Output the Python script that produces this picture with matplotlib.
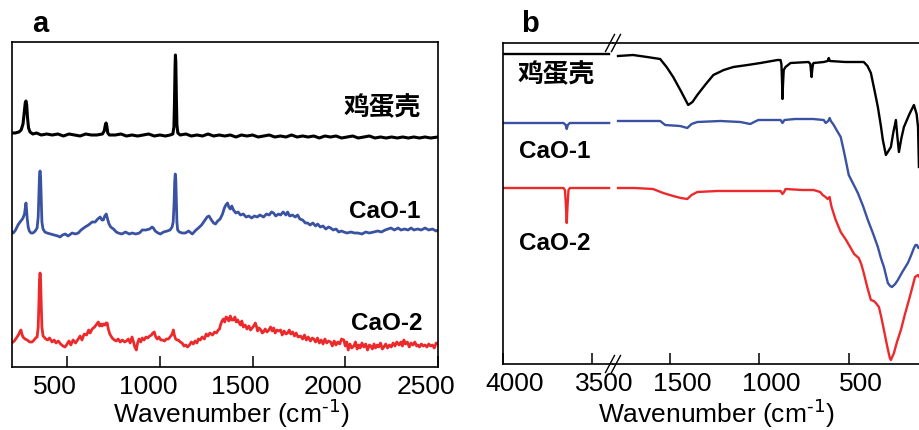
import matplotlib
matplotlib.use("Agg")
import matplotlib.pyplot as plt
import matplotlib.transforms as mtransforms
from matplotlib.lines import Line2D

plt.rcParams['font.family'] = ['Liberation Sans', 'Noto Sans CJK SC', 'DejaVu Sans']
plt.rcParams['mathtext.default'] = 'regular'
plt.rcParams['axes.unicode_minus'] = False

# ---------------- data: panel a (Raman, stacked, a.u.) ----------------
raman_eggshell = [(202,234),(220,234),(240,235),(252,237),(262,243),(269,255),(274,264),(278,266),(282,262),(286,250),(292,239),(300,235),(315,233),(335,234),(360,232),(390,233),(420,232),(450,233),(480,231),(510,233),(540,232),(570,231),(600,233),(630,232),(660,232),(690,233),(700,236),(706,242),(710,244),(714,241),(719,234),(728,232),(760,232),(790,233),(820,231),(850,232),(880,231),(910,232),(940,233),(970,231),(1000,232),(1030,231),(1055,232),(1070,233),(1076,240),(1079,265),(1082,300),(1084,312),(1086,305),(1089,270),(1092,242),(1097,234),(1110,232),(1140,233),(1170,231),(1200,232),(1230,231),(1260,233),(1290,231),(1320,232),(1350,231),(1380,232),(1410,230),(1440,232),(1470,231),(1500,232),(1530,230),(1560,231),(1590,232),(1620,230),(1650,231),(1680,230),(1710,232),(1740,230),(1770,231),(1800,230),(1830,231),(1860,229),(1890,231),(1920,230),(1950,231),(1980,229),(2010,230),(2040,231),(2070,229),(2100,230),(2130,231),(2160,229),(2190,230),(2220,229),(2250,230),(2280,229),(2310,230),(2340,229),(2370,230),(2400,229),(2430,230),(2460,229),(2500,230)]

raman_cao1 = [(202,135),(210,134),(222,137),(235,142),(246,145),(255,147),(262,149),(270,153),(275,160),(278,164),(281,158),(285,148),(290,140),(296,136),(305,134),(316,134),(328,136),(338,139),(344,150),(348,175),(351,192),(354,196),(357,190),(360,170),(364,145),(370,138),(380,135),(392,134),(410,133),(430,132),(450,131),(462,130),(475,132),(490,133),(505,131),(527,134),(545,133),(560,134),(575,137),(597,140),(615,142),(635,145),(651,145),(665,148),(678,150),(688,147),(695,147),(703,151),(711,153),(718,148),(726,143),(735,140),(750,138),(765,135),(776,134),(795,133),(815,135),(835,133),(851,134),(870,133),(890,134),(905,137),(925,137),(945,138),(958,140),(965,139),(975,136),(990,134),(1003,133),(1020,135),(1040,136),(1055,137),(1066,140),(1072,145),(1077,165),(1080,185),(1083,193),(1086,188),(1089,165),(1092,145),(1096,137),(1105,135),(1120,134),(1138,134),(1155,136),(1175,133),(1195,137),(1208,139),(1225,142),(1240,146),(1255,150),(1265,151),(1278,147),(1290,144),(1300,143),(1312,146),(1325,148),(1338,153),(1348,159),(1356,162),(1365,164),(1372,160),(1380,158),(1388,161),(1397,157),(1410,154),(1422,155),(1435,152),(1450,153),(1465,150),(1480,151),(1495,149),(1510,151),(1525,150),(1540,152),(1559,150),(1575,153),(1590,152),(1602,155),(1613,154),(1625,151),(1640,153),(1651,152),(1665,155),(1680,152),(1689,155),(1700,151),(1715,152),(1730,150),(1743,152),(1755,148),(1770,147),(1785,144),(1797,144),(1810,142),(1825,144),(1840,141),(1851,143),(1865,140),(1880,141),(1895,138),(1910,140),(1921,139),(1935,137),(1950,138),(1965,135),(1980,136),(1992,135),(2010,134),(2030,135),(2050,134),(2068,134),(2090,133),(2110,135),(2130,134),(2154,135),(2175,136),(2195,135),(2215,137),(2230,138),(2246,139),(2265,137),(2285,139),(2300,137),(2320,138),(2338,137),(2355,139),(2370,137),(2390,138),(2410,137),(2430,139),(2450,137),(2470,138),(2490,136),(2500,137)]

raman_cao2 = [(202,24),(215,26),(230,30),(240,33),(247,36),(251,37),(256,33),(262,30),(273,28),(285,27),(298,25),(311,25),(322,27),(330,29),(338,30),(344,40),(348,65),(351,88),(354,94),(357,88),(360,65),(364,40),(370,31),(376,30),(385,28),(395,27),(405,29),(419,25),(430,27),(440,24),(452,26),(465,23),(477,21),(489,20),(500,23),(510,26),(520,22),(532,27),(545,24),(560,28),(570,31),(580,27),(592,33),(605,32),(616,37),(624,34),(635,38),(648,40),(660,43),(668,45),(675,41),(682,43),(689,41),(696,43),(704,42),(710,44),(716,44),(722,38),(730,33),(743,29),(755,27),(765,26),(775,28),(786,25),(798,27),(810,25),(820,26),(830,28),(840,24),(850,30),(858,25),(865,20),(873,17),(880,24),(888,28),(897,25),(905,29),(915,27),(925,30),(935,29),(945,31),(955,32),(962,34),(970,35),(978,30),(986,28),(995,30),(1005,27),(1014,27),(1025,26),(1035,28),(1046,28),(1055,30),(1063,32),(1068,34),(1073,37),(1078,32),(1085,28),(1093,27),(1100,27),(1110,25),(1120,24),(1130,21),(1140,22),(1149,20),(1160,22),(1170,25),(1180,23),(1190,26),(1200,24),(1208,28),(1218,27),(1228,30),(1240,28),(1250,33),(1260,31),(1270,34),(1284,32),(1295,35),(1305,34),(1315,37),(1322,38),(1327,42),(1335,46),(1343,48),(1350,45),(1357,50),(1365,49),(1372,46),(1380,51),(1388,47),(1397,47),(1405,50),(1412,45),(1420,47),(1428,44),(1435,42),(1442,46),(1450,40),(1460,42),(1470,38),(1480,41),(1489,37),(1498,39),(1506,41),(1515,44),(1522,40),(1527,36),(1535,39),(1545,37),(1552,34),(1559,35),(1568,38),(1578,35),(1588,37),(1597,40),(1606,36),(1614,39),(1622,34),(1632,37),(1641,36),(1651,37),(1660,32),(1670,36),(1680,33),(1689,34),(1698,37),(1706,33),(1716,35),(1726,31),(1735,34),(1745,30),(1759,31),(1770,28),(1780,32),(1790,27),(1800,30),(1812,26),(1822,29),(1830,28),(1840,25),(1850,29),(1860,24),(1870,27),(1880,23),(1890,28),(1900,24),(1910,26),(1921,25),(1930,21),(1940,26),(1950,22),(1960,25),(1970,23),(1980,28),(1992,27),(2000,21),(2008,25),(2016,17),(2025,23),(2035,19),(2046,21),(2055,25),(2064,18),(2072,22),(2080,19),(2090,24),(2100,20),(2110,23),(2120,17),(2130,22),(2138,21),(2146,18),(2155,23),(2163,19),(2172,22),(2180,20),(2190,24),(2200,18),(2208,20),(2218,23),(2228,19),(2238,22),(2248,20),(2258,24),(2268,21),(2278,25),(2290,22),(2300,25),(2308,21),(2316,27),(2325,23),(2335,25),(2345,20),(2355,24),(2365,22),(2375,25),(2385,21),(2392,22),(2400,20),(2410,23),(2420,21),(2430,22),(2440,20),(2450,23),(2460,21),(2470,22),(2480,19),(2490,24),(2500,23)]

# ---------------- data: panel b (FTIR, stacked, a.u.) ----------------
# high-wavenumber segment (4000-3400) and low-wavenumber segment (1800-100)
ftir_eggshell_hi = [(4000,310),(3700,310),(3404,310)]
ftir_eggshell_lo = [(1792,308),(1708,309),(1629,307),(1556,305),(1520,297),(1483,287),(1440,273),(1399,259),(1375,262),(1348,269),(1300,280),(1258,289),(1200,294),(1146,297),(1067,299),(994,301),(899,304),(882,304),(877,300),(873,280),(871,265),(868,280),(864,294),(854,297),(826,301),(725,302),(715,300),(710,290),(708,287),(704,295),(700,300),(697,301),(640,302),(618,303),(612,306),(606,303),(520,302),(433,302),(416,302),(395,298),(376,291),(355,273),(337,257),(320,238),(309,224),(292,209),(278,213),(264,217),(250,232),(236,244),(228,228),(219,212),(205,226),(191,237),(160,250),(135,259),(120,250),(112,237),(107,197)]

ftir_cao1_hi = [(4000,241),(3660,241),(3648,239),(3642,235),(3636,239),(3625,241),(3404,241)]
ftir_cao1_lo = [(1792,243),(1556,243),(1528,239),(1444,238),(1404,236),(1380,240),(1348,242),(1219,243),(1107,242),(1051,240),(1030,242),(1006,244),(882,244),(871,241),(860,244),(800,245),(700,245),(640,244),(629,241),(615,243),(607,246),(600,243),(584,239),(565,233),(545,227),(530,215),(517,204),(500,189),(480,182),(449,171),(420,158),(393,144),(365,131),(337,117),(320,106),(303,97),(281,81),(268,78),(258,77),(240,80),(225,84),(200,92),(169,101),(150,109),(135,116),(126,119),(118,119),(110,116),(101,117)]

ftir_cao2_hi = [(4000,176),(3660,176),(3652,174),(3647,160),(3642,141),(3637,160),(3632,174),(3624,176),(3404,176)]
ftir_cao2_lo = [(1792,176),(1700,176),(1596,175),(1539,171),(1483,168),(1440,166),(1404,165),(1380,169),(1348,172),(1236,173),(1051,173),(882,173),(871,170),(862,172),(854,175),(760,174),(697,174),(660,172),(646,169),(630,167),(618,165),(607,167),(602,162),(596,157),(573,144),(545,132),(515,124),(489,116),(470,110),(444,106),(430,100),(416,91),(395,76),(376,64),(360,63),(348,61),(331,57),(318,47),(303,34),(285,18),(270,6),(264,4),(247,11),(230,22),(208,34),(185,50),(163,64),(145,76),(129,87),(112,89),(101,86)]

raman_labels = ['鸡蛋壳', 'CaO-1', 'CaO-2']
raman_ticks = [500, 1000, 1500, 2000, 2500]
ftir_ticks_hi = [4000, 3500]
ftir_ticks_lo = [1500, 1000, 500]
xlabel_text = 'Wavenumber (cm$^{\\text{-1}}$)'

BLACK = '#000000'
BLUE = '#3a52a2'
RED = '#ec2a2c'

W, H = 919, 430
fig = plt.figure(figsize=(W / 100, H / 100), dpi=100)

def px_rect(x0, y0, x1, y1):
    return [x0 / W, 1 - y1 / H, (x1 - x0) / W, (y1 - y0) / H]

TICK_FS = 19
LABEL_FS = 19
NAME_FS = 17.5

def style_axis(ax):
    for s in ax.spines.values():
        s.set_linewidth(1.2)
    ax.tick_params(axis='x', direction='in', length=8, width=1.1, labelsize=TICK_FS, pad=6, top=False)
    ax.set_yticks([])

def shift_labels(ax, dx_px):
    off = mtransforms.ScaledTranslation(dx_px / 100, 0, fig.dpi_scale_trans)
    for lab in ax.get_xticklabels():
        lab.set_transform(lab.get_transform() + off)

# ---------------- panel a ----------------
axa = fig.add_axes(px_rect(11.5, 42, 438, 367))
for data, col, lw in [(raman_eggshell, BLACK, 2.2), (raman_cao1, BLUE, 2.0), (raman_cao2, RED, 2.0)]:
    xs, ys = zip(*data)
    axa.plot(xs, ys, color=col, lw=lw, solid_joinstyle='round')
axa.set_xlim(200, 2500)
axa.set_ylim(0, 325)
style_axis(axa)
axa.set_xticks(raman_ticks)
axa.set_xticklabels([str(t) for t in raman_ticks])
shift_labels(axa, -12)

for lab, (xp, yp) in zip(raman_labels, [(421, 108), (420, 211), (423, 324)]):
    fig.text(xp / W, 1 - yp / H, lab, ha='right', va='center', fontsize=NAME_FS if lab != '鸡蛋壳' else 18.5,
             fontweight='bold')

fig.text(231 / W, 1 - 423 / H, xlabel_text, ha='center', va='baseline', fontsize=LABEL_FS)
fig.text(40 / W, 1 - 24 / H, 'a', ha='center', va='center', fontsize=21, fontweight='bold')

# ---------------- panel b (broken axis) ----------------
axL = fig.add_axes(px_rect(503, 43, 613, 364))
axR = fig.add_axes(px_rect(613, 43, 920, 364))
for ax in (axL, axR):
    style_axis(ax)
    ax.set_ylim(0, 321)
axL.spines['right'].set_visible(False)
axR.spines['left'].set_visible(False)
axR.spines['right'].set_visible(False)

for data, col in [(ftir_eggshell_hi, BLACK), (ftir_cao1_hi, BLUE), (ftir_cao2_hi, RED)]:
    xs, ys = zip(*data)
    axL.plot(xs, ys, color=col, lw=1.7, solid_joinstyle='round')
for data, col in [(ftir_eggshell_lo, BLACK), (ftir_cao1_lo, BLUE), (ftir_cao2_lo, RED)]:
    xs, ys = zip(*data)
    axR.plot(xs, ys, color=col, lw=1.7, solid_joinstyle='round')
axL.set_xlim(4000, 3382)
axR.set_xlim(1820, 101)
axL.set_xticks(ftir_ticks_hi)
axL.set_xticklabels([str(t) for t in ftir_ticks_hi])
axR.set_xticks(ftir_ticks_lo)
axR.set_xticklabels([str(t) for t in ftir_ticks_lo])
shift_labels(axL, 12)
shift_labels(axR, 12)

# break marks "//" on top and bottom spines
for ycen in (43, 364):
    for dx in (-3, 3):
        x0, x1 = 613 + dx - 4.5, 613 + dx + 4.5
        y0, y1 = ycen + 8.5, ycen - 8.5
        fig.add_artist(Line2D([x0 / W, x1 / W], [1 - y0 / H, 1 - y1 / H],
                              color='black', lw=1.0, transform=fig.transFigure))

for lab, (xp, yp) in zip(raman_labels, [(518, 75), (519, 152), (519, 243)]):
    fig.text(xp / W, 1 - yp / H, lab, ha='left', va='center', fontsize=NAME_FS if lab != '鸡蛋壳' else 18.5,
             fontweight='bold')

fig.text(716 / W, 1 - 423 / H, xlabel_text, ha='center', va='baseline', fontsize=LABEL_FS)
fig.text(530 / W, 1 - 24 / H, 'b', ha='center', va='center', fontsize=21, fontweight='bold')

fig.savefig('out.png', dpi=100)
